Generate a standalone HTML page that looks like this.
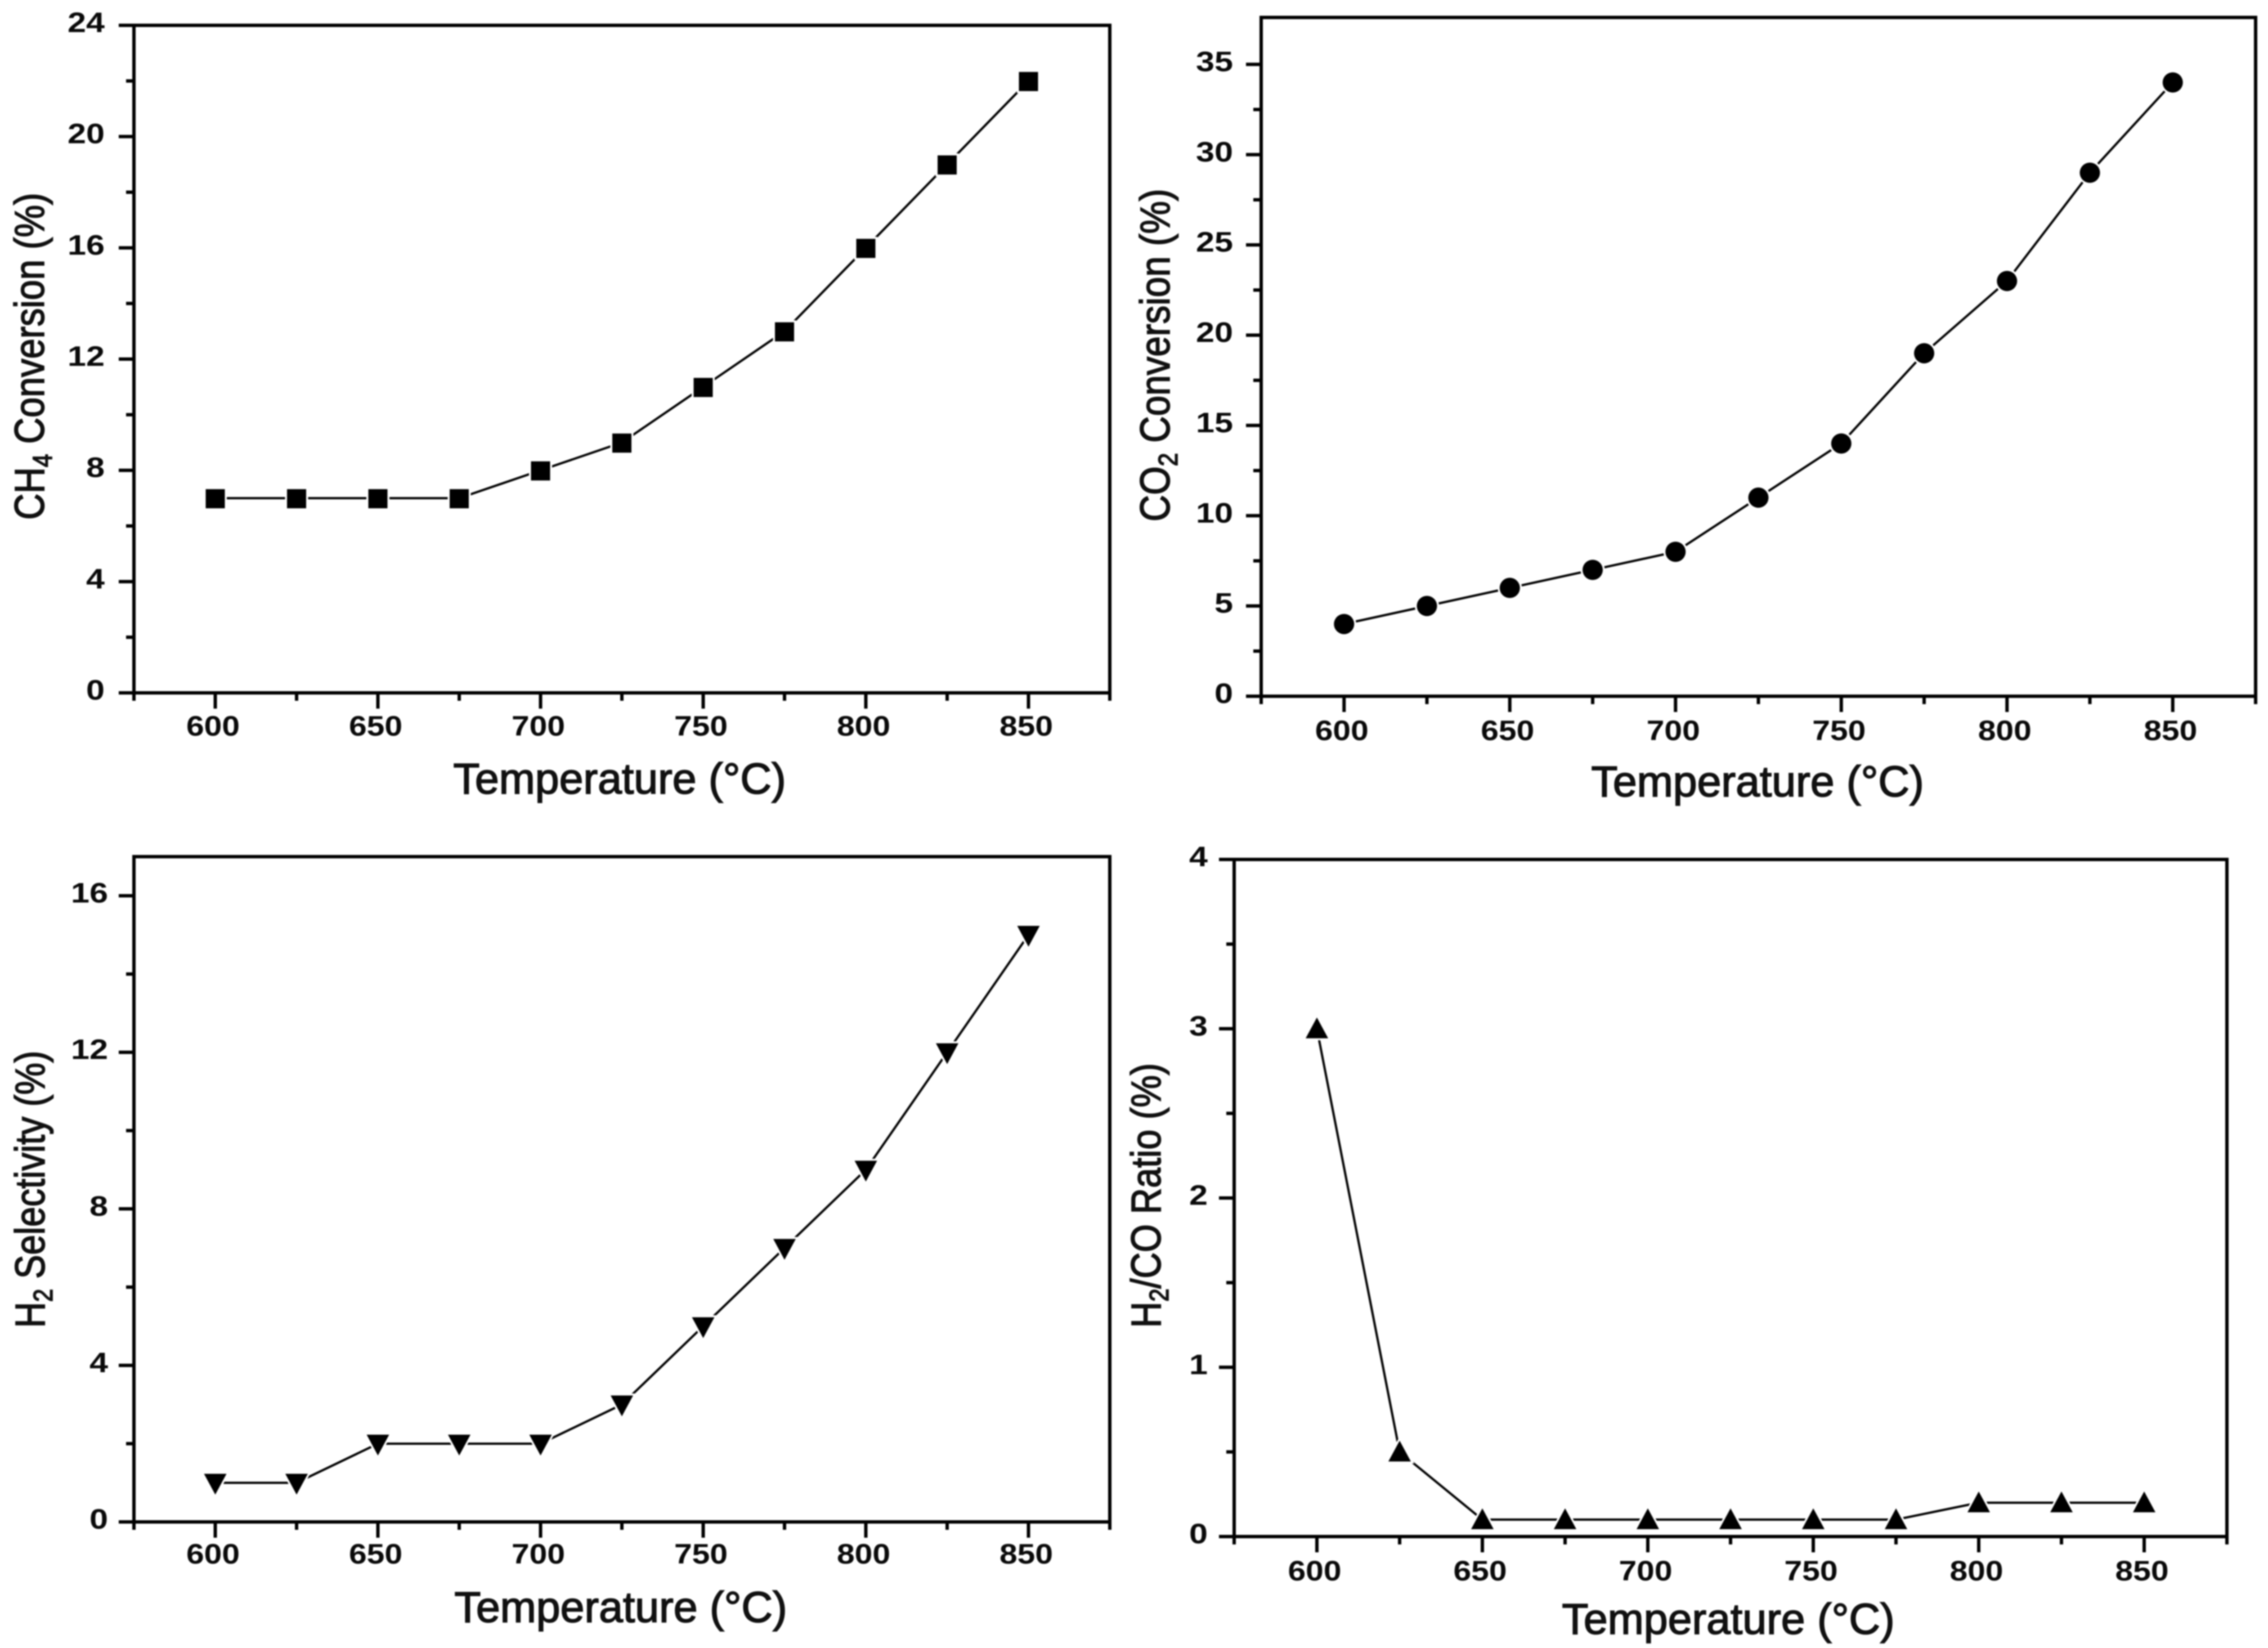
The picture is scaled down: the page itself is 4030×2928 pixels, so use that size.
<!DOCTYPE html>
<html lang="en">
<head>
<meta charset="utf-8">
<title>Catalyst performance versus temperature</title>
<style>
html,body{margin:0;padding:0;background:#fff;width:4030px;height:2928px;overflow:hidden}
svg{display:block;filter:blur(1.3px)}
text{font-family:"Liberation Sans",Arial,sans-serif;fill:#000}
.tick{font-size:50px;font-weight:bold;fill:#0a0a0a}
.title{font-size:74px;fill:#111;stroke:#111;stroke-width:1.8px}
.xtitle{font-size:77px}
.sub{font-size:48px}
</style>
</head>
<body>
<svg id="figure" xmlns="http://www.w3.org/2000/svg" width="4030" height="2928" viewBox="0 0 4030 2928">
  <rect width="4030" height="2928" fill="#fff"/>
  <g id="panel-ch4">
    <text class="title" transform="translate(78 633) rotate(-90) scale(0.875 1)" text-anchor="middle">CH<tspan class="sub" dy="14">4</tspan><tspan dy="-14"> Conversion (%)</tspan></text>
    <text class="title xtitle" x="1101" y="1410" text-anchor="middle">Temperature (°C)</text>
  </g>
  <g id="panel-co2">
    <text class="title" transform="translate(2078 631) rotate(-90) scale(0.885 1)" text-anchor="middle">CO<tspan class="sub" dy="14">2</tspan><tspan dy="-14"> Conversion (%)</tspan></text>
    <text class="title xtitle" x="3123" y="1415" text-anchor="middle">Temperature (°C)</text>
  </g>
  <g id="panel-h2">
    <text class="title" transform="translate(79 2113) rotate(-90) scale(0.865 1)" text-anchor="middle">H<tspan class="sub" dy="14">2</tspan><tspan dy="-14"> Selectivity (%)</tspan></text>
    <text class="title xtitle" x="1103" y="2882" text-anchor="middle">Temperature (°C)</text>
  </g>
  <g id="panel-ratio">
    <text class="title" transform="translate(2062 2124) rotate(-90) scale(0.87 1)" text-anchor="middle">H<tspan class="sub" dy="14">2</tspan><tspan dy="-14">/CO Ratio (%)</tspan></text>
    <text class="title xtitle" x="3071" y="2903" text-anchor="middle">Temperature (°C)</text>
  </g>
</svg>
<script>
const temperatures = [600, 625, 650, 675, 700, 725, 750, 775, 800, 825, 850];
const ch4Conversion = [7, 7, 7, 7, 8, 9, 11, 13, 16, 19, 22];
const co2Conversion = [4, 5, 6, 7, 8, 11, 14, 19, 23, 29, 34];
const h2Selectivity = [1, 1, 2, 2, 2, 3, 5, 7, 9, 12, 15];
const h2CoRatio = [3, 0.5, 0.1, 0.1, 0.1, 0.1, 0.1, 0.1, 0.2, 0.2, 0.2];

const xMajorTicks = [600, 650, 700, 750, 800, 850];
const xMinorTicks = [575, 625, 675, 725, 775, 825, 875];

const ch4MajorTicks = [0, 4, 8, 12, 16, 20, 24];
const ch4MinorTicks = [2, 6, 10, 14, 18, 22];
const co2MajorTicks = [0, 5, 10, 15, 20, 25, 30, 35];
const co2MinorTicks = [2.5, 7.5, 12.5, 17.5, 22.5, 27.5, 32.5];
const h2MajorTicks = [0, 4, 8, 12, 16];
const h2MinorTicks = [2, 6, 10, 14];
const ratioMajorTicks = [0, 1, 2, 3, 4];
const ratioMinorTicks = [0.5, 1.5, 2.5, 3.5];

const NS = 'http://www.w3.org/2000/svg';

function make(parent, tag, props) {
  const el = document.createElementNS(NS, tag);
  for (const k in props) el.setAttribute(k, props[k]);
  parent.appendChild(el);
  return el;
}

function markerShape(group, kind, cx, cy) {
  const halo = {fill: '#000', stroke: '#fff', 'stroke-width': 7, 'paint-order': 'stroke'};
  if (kind === 'square') {
    return make(group, 'rect', Object.assign({x: cx - 17, y: cy - 16, width: 34, height: 34}, halo));
  }
  if (kind === 'circle') {
    return make(group, 'circle', Object.assign({cx: cx, cy: cy, r: 18}, halo));
  }
  if (kind === 'down') {
    return make(group, 'polygon', Object.assign({points: (cx - 20) + ',' + (cy - 16) + ' ' + (cx + 20) + ',' + (cy - 16) + ' ' + cx + ',' + (cy + 21)}, halo));
  }
  return make(group, 'polygon', Object.assign({points: (cx - 20) + ',' + (cy + 17) + ' ' + (cx + 20) + ',' + (cy + 17) + ' ' + cx + ',' + (cy - 20)}, halo));
}

function drawPanel(cfg) {
  const g = document.getElementById(cfg.id);
  const xScale = function (v) { return cfg.left + (v - 575) / 300 * (cfg.right - cfg.left); };
  const yScale = function (v) { return cfg.bottom - v / cfg.yMax * (cfg.bottom - cfg.top); };

  const frame = make(g, 'rect', {x: cfg.left, y: cfg.top, width: cfg.right - cfg.left, height: cfg.bottom - cfg.top, fill: 'none', stroke: '#000', 'stroke-width': 6});
  
  

  xMajorTicks.forEach(function (v) {
    const x = xScale(v);
    const t = make(g, 'line', {x1: x, x2: x, y1: cfg.bottom, y2: cfg.bottom + 28, stroke: '#000', 'stroke-width': 6});
    
    
    const l = make(g, 'text', {class: 'tick', x: x - 4, y: cfg.bottom + cfg.xLabelGap, 'text-anchor': 'middle', textLength: 95, lengthAdjust: 'spacingAndGlyphs'});
    l.textContent = String(v);
    
    
  });
  xMinorTicks.forEach(function (v) {
    const x = xScale(v);
    const t = make(g, 'line', {x1: x, x2: x, y1: cfg.bottom, y2: cfg.bottom + 14, stroke: '#000', 'stroke-width': 6});
    
    
  });
  cfg.major.forEach(function (v) {
    const y = yScale(v);
    const t = make(g, 'line', {x1: cfg.left - 27, x2: cfg.left, y1: y, y2: y, stroke: '#000', 'stroke-width': 6});
    
    
    const s = String(v);
    const l = make(g, 'text', {class: 'tick', x: cfg.left - cfg.yLabelGap, y: y + 12, 'text-anchor': 'end', textLength: s.length * 33, lengthAdjust: 'spacingAndGlyphs'});
    l.textContent = s;
    
    
  });
  cfg.minor.forEach(function (v) {
    const y = yScale(v);
    const t = make(g, 'line', {x1: cfg.left - 14, x2: cfg.left, y1: y, y2: y, stroke: '#000', 'stroke-width': 6});
    
    
  });

  const points = temperatures.map(function (t, i) { return xScale(t) + ',' + yScale(cfg.values[i]); }).join(' ');
  const line = make(g, 'polyline', {points: points, fill: 'none', stroke: '#000', 'stroke-width': 4, 'stroke-linejoin': 'round'});
  
  

  temperatures.forEach(function (t, i) {
    const m = markerShape(g, cfg.marker, xScale(t), yScale(cfg.values[i]));
    
    
  });
}

drawPanel({id: 'panel-ch4', left: 238, right: 1972, top: 45, bottom: 1231, yMax: 24, major: ch4MajorTicks, minor: ch4MinorTicks, values: ch4Conversion, marker: 'square', xLabelGap: 76, yLabelGap: 52});
drawPanel({id: 'panel-co2', left: 2241, right: 4008, top: 31, bottom: 1237, yMax: 37.6, major: co2MajorTicks, minor: co2MinorTicks, values: co2Conversion, marker: 'circle', xLabelGap: 78, yLabelGap: 50});
drawPanel({id: 'panel-h2', left: 238, right: 1972, top: 1522, bottom: 2704, yMax: 17, major: h2MajorTicks, minor: h2MinorTicks, values: h2Selectivity, marker: 'down', xLabelGap: 74, yLabelGap: 46});
drawPanel({id: 'panel-ratio', left: 2193, right: 3957, top: 1527, bottom: 2730, yMax: 4, major: ratioMajorTicks, minor: ratioMinorTicks, values: h2CoRatio, marker: 'up', xLabelGap: 78, yLabelGap: 47});
</script>
</body>
</html>
